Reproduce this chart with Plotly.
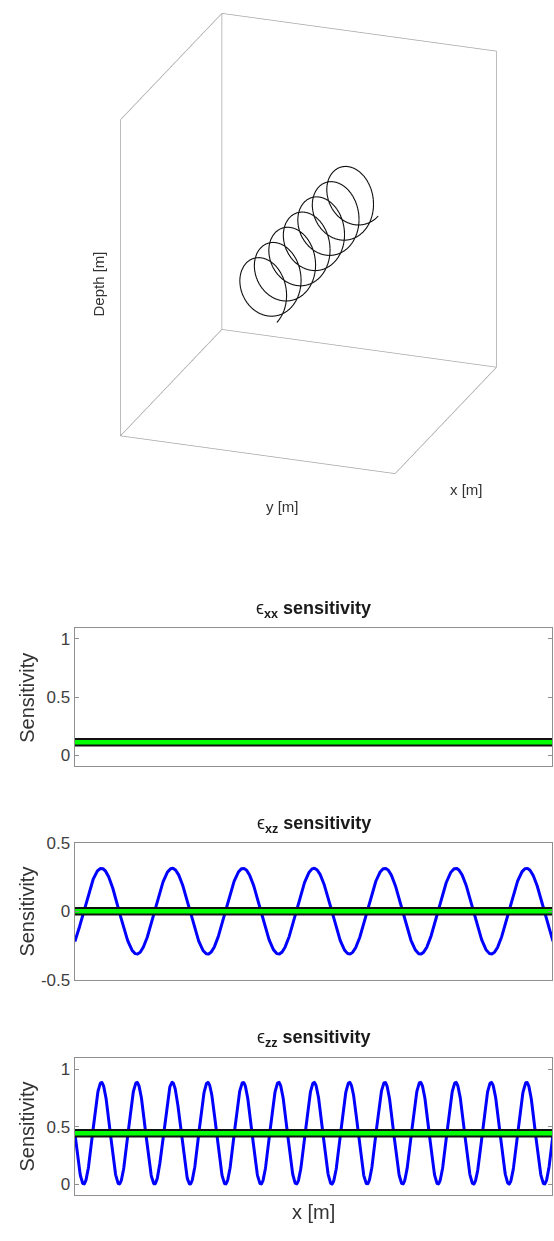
import numpy as np
import plotly.graph_objects as go

# ---- helix geometry (metres) ----
pitch_m = 1.0
n_turns = 7
radius_m = 0.45
start_phase_deg = -45.0

# ---- limits of the 3-D box ----
x_box = [0.0, 7.0]
y_box = [-2.3, 2.3]
z_box = [-2.17, 2.17]

# ---- strain sensitivity along the cable ----
xx_level = 0.111
xz_amplitude = 0.313
zz_peak = 0.885
mean_levels = [0.111, 0.0, 0.4425]
x_window = [0.0, 6.74]

components = ["xx", "xz", "zz"]
y_ranges = [[-0.095, 1.09], [-0.5, 0.5], [-0.092, 1.1]]
y_tickvals = [[0, 0.5, 1], [-0.5, 0, 0.5], [0, 0.5, 1]]
y_ticktext = [["0", "0.5", "1"], ["-0.5", "0", "0.5"], ["0", "0.5", "1"]]

FONT = "Liberation Sans, Arial, sans-serif"
W, H = 554, 1241

# sample positions along the cable and winding phase
x_m = np.linspace(0.0, n_turns * pitch_m, 1600)
phase = 2 * np.pi * x_m / pitch_m + np.deg2rad(start_phase_deg)

sens = [
    np.full_like(x_m, xx_level),
    xz_amplitude * np.sin(phase),
    zz_peak * np.sin(phase) ** 2,
]

fig = go.Figure()

# ---------------- 3-D helix in its box ----------------
# angular position of the fibre around the cable axis
theta = -phase - np.pi / 2
hx = x_m
hy = radius_m * np.cos(theta)
hz = radius_m * np.sin(theta)

x0, x1 = x_box
y0, y1 = y_box
z0, z1 = z_box
edges = [
    ((x0, y0, z0), (x0, y0, z1)),
    ((x1, y0, z0), (x1, y0, z1)),
    ((x0, y1, z0), (x0, y1, z1)),
    ((x0, y0, z1), (x1, y0, z1)),
    ((x0, y0, z1), (x0, y1, z1)),
    ((x0, y0, z0), (x1, y0, z0)),
    ((x0, y0, z0), (x0, y1, z0)),
    ((x1, y0, z0), (x1, y1, z0)),
    ((x0, y1, z0), (x1, y1, z0)),
]
ex, ey, ez = [], [], []
for a, b in edges:
    ex += [a[0], b[0], None]
    ey += [a[1], b[1], None]
    ez += [a[2], b[2], None]

fig.add_trace(go.Scatter3d(x=ex, y=ey, z=ez, mode="lines",
                           line=dict(color="#a6a6a6", width=1.5),
                           hoverinfo="skip", showlegend=False, scene="scene"))
fig.add_trace(go.Scatter3d(x=hx, y=hy, z=hz, mode="lines",
                           line=dict(color="#111111", width=2.2),
                           hoverinfo="skip", showlegend=False, scene="scene"))

hidden_axis = dict(showgrid=False, zeroline=False, showline=False,
                   showticklabels=False, ticks="", showbackground=False,
                   showspikes=False, title=dict(text=""))

cx, cy = 309.5 / W, 1 - 238.5 / H
half_w, half_h = 220 / W, 238 / H
zoom = 1.457
fig.update_layout(scene=dict(
    domain=dict(x=[cx - half_w, cx + half_w], y=[cy - half_h, cy + half_h]),
    xaxis=dict(range=x_box, **hidden_axis),
    yaxis=dict(range=y_box, **hidden_axis),
    zaxis=dict(range=z_box, **hidden_axis),
    aspectmode="manual",
    aspectratio=dict(x=0.872 * zoom, y=0.855 * zoom, z=1.0 * zoom),
    camera=dict(projection=dict(type="orthographic"),
                up=dict(x=0, y=0, z=1),
                center=dict(x=0, y=0, z=0),
                eye=dict(x=0.870 * 2.0, y=0.315 * 2.0, z=0.380 * 2.0)),
    bgcolor="white",
))

# ---------------- 2-D sensitivity panels ----------------
x_dom = [75 / W, 0.999]
panel_px = [(629, 769), (846.7, 985.7), (1065, 1204)]

for i in range(3):
    top, bot = panel_px[i]
    xa = "x" if i == 0 else f"x{i+1}"
    ya = "y" if i == 0 else f"y{i+1}"
    fig.add_trace(go.Scatter(x=x_m, y=sens[i], mode="lines",
                             line=dict(color="#0000ff", width=3),
                             xaxis=xa, yaxis=ya, showlegend=False, hoverinfo="skip"))
    fig.add_trace(go.Scatter(x=[x_m[0], x_m[-1]], y=[mean_levels[i]] * 2, mode="lines",
                             line=dict(color="#111111", width=8.5),
                             xaxis=xa, yaxis=ya, showlegend=False, hoverinfo="skip"))
    fig.add_trace(go.Scatter(x=[x_m[0], x_m[-1]], y=[mean_levels[i]] * 2, mode="lines",
                             line=dict(color="#00ff00", width=4.5),
                             xaxis=xa, yaxis=ya, showlegend=False, hoverinfo="skip"))

    xkey = "xaxis" if i == 0 else f"xaxis{i+1}"
    ykey = "yaxis" if i == 0 else f"yaxis{i+1}"
    fig.layout[xkey] = dict(domain=x_dom, anchor=ya, range=x_window,
                            showline=True, mirror=True, linecolor="#8f8f8f", linewidth=1.4,
                            showgrid=False, zeroline=False, ticks="", showticklabels=False)
    fig.layout[ykey] = dict(domain=[1 - bot / H, 1 - top / H], anchor=xa,
                            range=y_ranges[i], tickvals=y_tickvals[i], ticktext=y_ticktext[i],
                            showline=True, mirror="ticks", linecolor="#8f8f8f", linewidth=1.4,
                            ticks="inside", ticklen=4, tickcolor="#8f8f8f", tickwidth=1.2,
                            showgrid=False, zeroline=False,
                            tickfont=dict(family=FONT, size=17, color="#404040"))

    # panel title
    fig.add_annotation(xref="paper", yref="paper",
                       x=(x_dom[0] + x_dom[1]) / 2, y=1 - (top - 19) / H,
                       xanchor="center", yanchor="middle", showarrow=False,
                       text=f"ϵ<sub><b>{components[i]}</b></sub> <b>sensitivity</b>",
                       font=dict(family=FONT, size=18, color="#1a1a1a"))
    # y-axis title
    fig.add_annotation(xref="paper", yref="paper",
                       x=27.5 / W, y=1 - (top + bot) / 2 / H,
                       xanchor="center", yanchor="middle", showarrow=False, textangle=-90,
                       text="Sensitivity",
                       font=dict(family=FONT, size=20, color="#333333"))

fig.add_annotation(xref="paper", yref="paper", x=(x_dom[0] + x_dom[1]) / 2, y=1 - 1222 / H,
                   xanchor="center", yanchor="middle", showarrow=False, text="x [m]",
                   font=dict(family=FONT, size=20, color="#333333"))

# labels of the 3-D box
label3d = dict(family=FONT, size=15, color="#333333")
fig.add_annotation(xref="paper", yref="paper", x=99 / W, y=1 - 279 / H, textangle=-90,
                   xanchor="center", yanchor="middle", showarrow=False,
                   text="Depth [m]", font=label3d)
fig.add_annotation(xref="paper", yref="paper", x=283 / W, y=1 - 505 / H,
                   xanchor="center", yanchor="middle", showarrow=False,
                   text="y [m]", font=label3d)
fig.add_annotation(xref="paper", yref="paper", x=467 / W, y=1 - 488 / H,
                   xanchor="center", yanchor="middle", showarrow=False,
                   text="x [m]", font=label3d)

fig.update_layout(width=W, height=H, margin=dict(l=0, r=0, t=0, b=0),
                  paper_bgcolor="white", plot_bgcolor="white",
                  font=dict(family=FONT))

fig.write_html("out.html", config=dict(displayModeBar=False))
